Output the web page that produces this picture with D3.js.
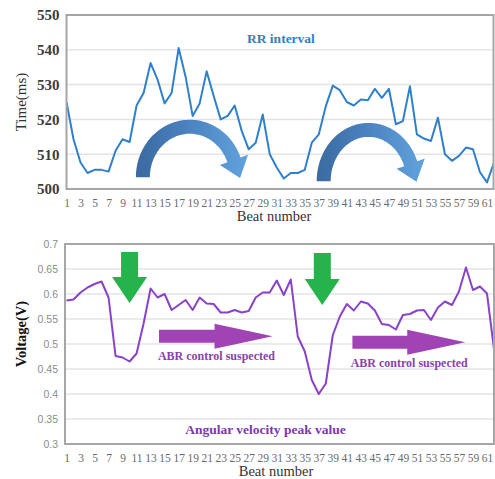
<!DOCTYPE html>
<html>
<head>
<meta charset="utf-8">
<script src="https://cdn.jsdelivr.net/npm/d3@7"></script>
<style>
  html, body { margin: 0; padding: 0; background: #fff; }
  svg { display: block; }
</style>
</head>
<body>
<svg id="chart" width="495" height="479"></svg>
<script>
// Beat index shared by both panels
const beats = d3.range(1, 63);

// RR interval per beat (ms)
const rrInterval = [
  525.0, 514.3, 507.6, 504.6, 505.5, 505.5, 505.0, 511.0, 514.3, 513.5,
  524.0, 527.6, 536.2, 531.4, 524.6, 527.6, 540.5, 532.2, 521.0, 524.6,
  533.8, 526.7, 520.0, 521.0, 524.0, 516.7, 511.4, 513.3, 521.4, 510.0,
  506.2, 503.0, 504.6, 504.6, 505.5, 513.3, 515.7, 523.8, 529.7, 528.4,
  525.0, 524.0, 525.7, 525.5, 528.8, 526.2, 528.8, 518.6, 519.5, 529.5,
  515.7, 514.5, 513.8, 520.5, 510.0, 508.1, 509.5, 511.9, 511.4, 504.8,
  501.9, 507.6
];

// Angular velocity peak value per beat (V)
const angularPeak = [
  0.587, 0.589, 0.603, 0.613, 0.620, 0.625, 0.593, 0.476, 0.473, 0.465,
  0.481, 0.541, 0.611, 0.593, 0.600, 0.568, 0.578, 0.588, 0.568, 0.593,
  0.581, 0.580, 0.563, 0.563, 0.568, 0.563, 0.566, 0.593, 0.603, 0.603,
  0.627, 0.598, 0.629, 0.515, 0.485, 0.428, 0.400, 0.421, 0.518, 0.555,
  0.580, 0.567, 0.585, 0.581, 0.567, 0.540, 0.538, 0.529, 0.558, 0.560,
  0.567, 0.568, 0.548, 0.573, 0.585, 0.578, 0.605, 0.653, 0.608, 0.615,
  0.601, 0.490
];

// Axis tick values
const beatTicks = d3.range(1, 62, 2);
const rrTicks = [500, 510, 520, 530, 540, 550];
const voltTicks = [0.3, 0.35, 0.4, 0.45, 0.5, 0.55, 0.6, 0.65, 0.7];

// Annotations (data units: beat, value)
const rrCurvedArrows = [
  { left: 10.9, center: 18.6, base: 503.4, top: 519.9, endAngle: 20 },
  { left: 36.7, center: 44.1, base: 502.2, top: 519.0, endAngle: 20 }
];
const greenArrows = [
  { beat: 10.0, top: 0.684, tip: 0.582 },
  { beat: 37.5, top: 0.682, tip: 0.578 }
];
const purpleArrows = [
  { from: 14.2, to: 30.4, value: 0.5155 },
  { from: 41.8, to: 57.9, value: 0.5035 }
];
const purpleNotes = [
  { beat: 22.4, value: 0.474, text: "ABR control suspected" },
  { beat: 49.9, value: 0.460, text: "ABR control suspected" }
];

const svg = d3.select("#chart");
const serif = "'Liberation Serif', 'Times New Roman', serif";
const sans = "'Liberation Sans', Arial, sans-serif";

// ---------- shared x scale ----------
const x = d3.scaleLinear().domain([1, 62]).range([66.5, 494]);

// ---------- panel builder ----------
function panel(opts) {
  const g = svg.append("g");
  const { y, box, ticks, tickFmt } = opts;

  // gridlines
  g.append("g").selectAll("line").data(ticks).join("line")
    .attr("x1", box.x0).attr("x2", box.x1)
    .attr("y1", d => y(d)).attr("y2", d => y(d))
    .attr("stroke", "#e4e4e4").attr("stroke-width", 1.5);

  // y axis labels
  const ya = g.append("g").attr("transform", `translate(${box.x0 - 4},0)`)
    .call(d3.axisLeft(y).tickValues(ticks).tickSize(0).tickFormat(tickFmt));
  ya.select(".domain").remove();
  ya.selectAll("text").attr("font-family", opts.yFont).attr("font-size", opts.ySize)
    .attr("fill", opts.yColor).attr("font-weight", opts.yWeight || "normal");

  // x axis labels
  const xa = g.append("g").attr("transform", `translate(0,${box.y1 + 7})`)
    .call(d3.axisBottom(x).tickValues(beatTicks).tickSize(0).tickFormat(d3.format("d")));
  xa.select(".domain").remove();
  xa.selectAll("text").attr("font-family", serif).attr("font-size", 11.5)
    .attr("fill", "#6a6a6a");

  // clip for series
  const clipId = "clip" + opts.id;
  svg.append("clipPath").attr("id", clipId).append("rect")
    .attr("x", box.x0).attr("y", box.y0)
    .attr("width", box.x1 - box.x0).attr("height", box.y1 - box.y0);

  return { g, clipId };
}

// ---------- upper panel: RR interval ----------
const boxTop = { x0: 66.5, x1: 493.5, y0: 15, y1: 189 };
const yTop = d3.scaleLinear().domain([500, 550]).range([boxTop.y1, boxTop.y0]);
const rrPanel = panel({
  id: "rr", y: yTop, box: boxTop, ticks: rrTicks, tickFmt: d3.format("d"),
  yFont: serif, ySize: 15, yColor: "#3c3c3c", yWeight: "bold"
});

// curved arrows (gradient filled)
const defs = svg.append("defs");
const grad = defs.append("linearGradient").attr("id", "arcGrad")
  .attr("x1", 0).attr("x2", 1).attr("y1", 0).attr("y2", 0);
grad.append("stop").attr("offset", "0%").attr("stop-color", "#3a6aa0");
grad.append("stop").attr("offset", "45%").attr("stop-color", "#4a82bf");
grad.append("stop").attr("offset", "100%").attr("stop-color", "#62a3dd");

const arcThick = 14, headHalf = 15, headLen = 19;
rrCurvedArrows.forEach(a => {
  const cx = x(a.center), cy = yTop(a.base);
  const rx = cx - x(a.left), ry = cy - yTop(a.top);
  const rxi = rx - arcThick, ryi = ry - arcThick;
  const rad = t => t * Math.PI / 180;
  const pt = (rX, rY, t) => [cx + rX * Math.cos(rad(t)), cy - rY * Math.sin(rad(t))];
  const outer = d3.range(180, a.endAngle - 0.01, -2).map(t => pt(rx, ry, t));
  const inner = d3.range(a.endAngle, 180.01, 2).map(t => pt(rxi, ryi, t));
  // arrow head at the end of the arc, pointing along the tangent
  const e = rad(a.endAngle);
  const rmx = (rx + rxi) / 2, rmy = (ry + ryi) / 2;
  const mid = pt(rmx, rmy, a.endAngle);
  let tx = rmx * Math.sin(e), ty = rmy * Math.cos(e);
  const tl = Math.hypot(tx, ty); tx /= tl; ty /= tl;
  const nx = Math.cos(e), ny = -Math.sin(e);
  const hOut = [mid[0] + nx * headHalf, mid[1] + ny * headHalf];
  const hIn = [mid[0] - nx * headHalf, mid[1] - ny * headHalf];
  const tip = [mid[0] + tx * headLen, mid[1] + ty * headLen];
  const path = d3.path();
  path.moveTo(...outer[0]);
  outer.forEach(p => path.lineTo(...p));
  path.lineTo(...hOut); path.lineTo(...tip); path.lineTo(...hIn);
  inner.forEach(p => path.lineTo(...p));
  path.closePath();
  rrPanel.g.append("path").attr("d", path.toString()).attr("fill", "url(#arcGrad)");
});

// RR series line
rrPanel.g.append("path").datum(rrInterval)
  .attr("clip-path", `url(#${rrPanel.clipId})`)
  .attr("fill", "none").attr("stroke", "#2f80cc").attr("stroke-width", 2)
  .attr("stroke-linejoin", "round")
  .attr("d", d3.line().x((d, i) => x(beats[i])).y(d => yTop(d)));

// frame
rrPanel.g.append("rect").attr("x", boxTop.x0).attr("y", boxTop.y0)
  .attr("width", boxTop.x1 - boxTop.x0).attr("height", boxTop.y1 - boxTop.y0)
  .attr("fill", "none").attr("stroke", "#a6a6a6").attr("stroke-width", 2);

rrPanel.g.append("text").attr("x", x(31.6)).attr("y", yTop(542.8))
  .attr("text-anchor", "middle").attr("dominant-baseline", "middle")
  .attr("font-family", serif).attr("font-weight", "bold").attr("font-size", 13.5)
  .attr("fill", "#2f7fc9").text("RR interval");

rrPanel.g.append("text").attr("transform", `translate(23,${(boxTop.y0 + boxTop.y1) / 2}) rotate(-90)`)
  .attr("text-anchor", "middle").attr("dominant-baseline", "middle")
  .attr("font-family", serif).attr("font-size", 15).attr("fill", "#333")
  .text("Time(ms)");

rrPanel.g.append("text").attr("x", 274).attr("y", 218)
  .attr("text-anchor", "middle").attr("dominant-baseline", "middle")
  .attr("font-family", serif).attr("font-size", 14.5).attr("fill", "#333")
  .text("Beat number");

// ---------- lower panel: angular velocity ----------
const boxBot = { x0: 65, x1: 494, y0: 244, y1: 444 };
const yBot = d3.scaleLinear().domain([0.3, 0.7]).range([boxBot.y1, boxBot.y0]);
const avPanel = panel({
  id: "av", y: yBot, box: boxBot, ticks: voltTicks, tickFmt: d => String(+d.toFixed(2)),
  yFont: sans, ySize: 10.5, yColor: "#8c8c8c"
});

// green down arrows
const gShaft = 8.5, gHead = 17.5, gHeadLen = 26;
greenArrows.forEach(a => {
  const cx = x(a.beat), t0 = yBot(a.top), t1 = yBot(a.tip), hb = t1 - gHeadLen;
  const p = d3.path();
  p.moveTo(cx - gShaft, t0); p.lineTo(cx + gShaft, t0); p.lineTo(cx + gShaft, hb);
  p.lineTo(cx + gHead, hb); p.lineTo(cx, t1); p.lineTo(cx - gHead, hb);
  p.lineTo(cx - gShaft, hb); p.closePath();
  avPanel.g.append("path").attr("d", p.toString()).attr("fill", "#25b34b");
});

// purple right arrows
const pShaft = 6.5, pHead = 12.5, pHeadLen = 58;
purpleArrows.forEach(a => {
  const x0 = x(a.from), x1 = x(a.to), cy = yBot(a.value), hb = x1 - pHeadLen;
  const p = d3.path();
  p.moveTo(x0, cy - pShaft); p.lineTo(hb, cy - pShaft); p.lineTo(hb, cy - pHead);
  p.lineTo(x1, cy); p.lineTo(hb, cy + pHead); p.lineTo(hb, cy + pShaft);
  p.lineTo(x0, cy + pShaft); p.closePath();
  avPanel.g.append("path").attr("d", p.toString()).attr("fill", "#a043b4");
});

purpleNotes.forEach(n => {
  avPanel.g.append("text").attr("x", x(n.beat)).attr("y", yBot(n.value))
    .attr("text-anchor", "middle").attr("dominant-baseline", "middle")
    .attr("font-family", serif).attr("font-weight", "bold").attr("font-size", 12)
    .attr("fill", "#8a3fb0").text(n.text);
});

// angular velocity series line
avPanel.g.append("path").datum(angularPeak)
  .attr("clip-path", `url(#${avPanel.clipId})`)
  .attr("fill", "none").attr("stroke", "#8a42c6").attr("stroke-width", 2)
  .attr("stroke-linejoin", "round")
  .attr("d", d3.line().x((d, i) => x(beats[i])).y(d => yBot(d)));

// frame
avPanel.g.append("rect").attr("x", boxBot.x0).attr("y", boxBot.y0)
  .attr("width", boxBot.x1 - boxBot.x0).attr("height", boxBot.y1 - boxBot.y0)
  .attr("fill", "none").attr("stroke", "#a6a6a6").attr("stroke-width", 2);

avPanel.g.append("text").attr("x", x(29.4)).attr("y", yBot(0.326))
  .attr("text-anchor", "middle").attr("dominant-baseline", "middle")
  .attr("font-family", serif).attr("font-weight", "bold").attr("font-size", 13.5)
  .attr("fill", "#7d36b3").text("Angular velocity peak value");

avPanel.g.append("text").attr("transform", `translate(23,${(boxBot.y0 + boxBot.y1) / 2 - 10}) rotate(-90)`)
  .attr("text-anchor", "middle").attr("dominant-baseline", "middle")
  .attr("font-family", serif).attr("font-weight", "bold").attr("font-size", 14.5).attr("fill", "#111")
  .text("Voltage(V)");

avPanel.g.append("text").attr("x", 276).attr("y", 473)
  .attr("text-anchor", "middle").attr("dominant-baseline", "middle")
  .attr("font-family", serif).attr("font-size", 14.5).attr("fill", "#333")
  .text("Beat number");
</script>
</body>
</html>
